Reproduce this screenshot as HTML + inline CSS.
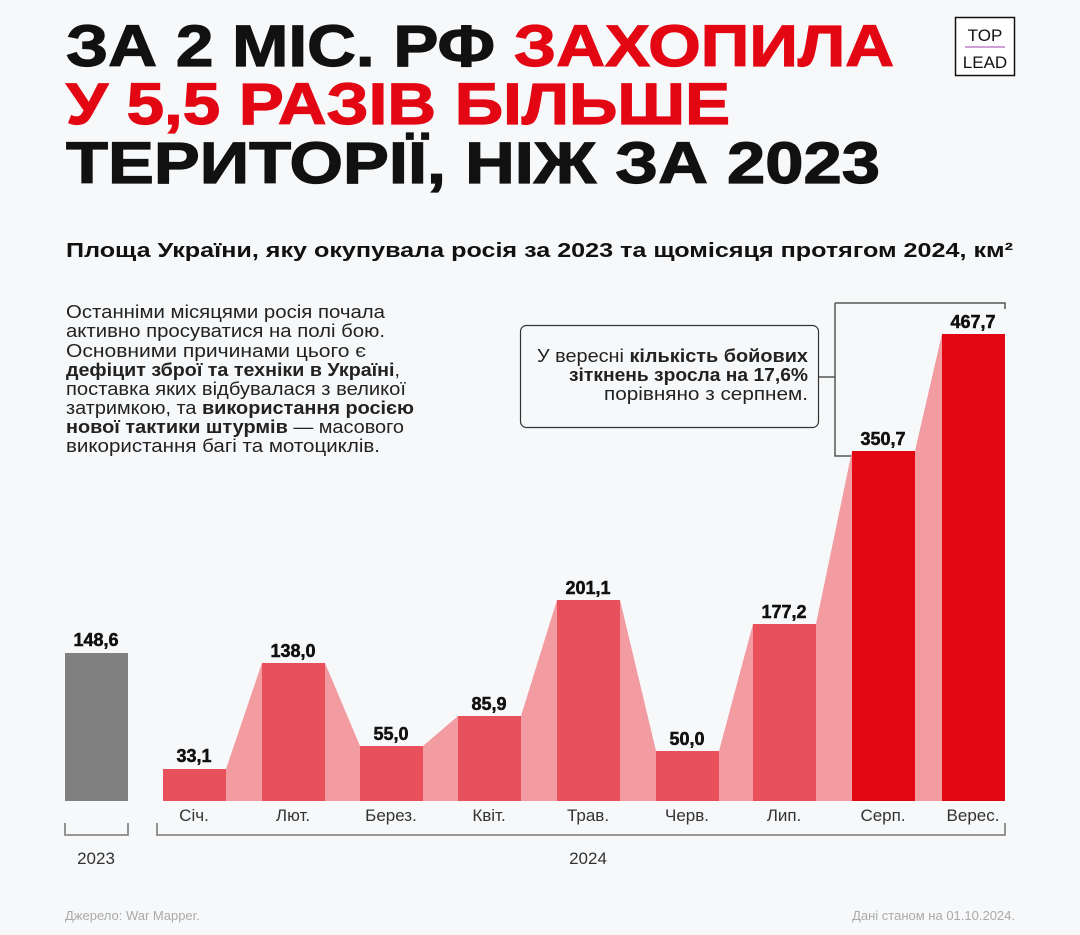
<!DOCTYPE html>
<html><head><meta charset="utf-8"><style>
html,body{margin:0;padding:0;background:#f6f8fa;}
svg{display:block;font-family:"Liberation Sans",sans-serif;}
</style></head><body>
<svg width="1080" height="935" viewBox="0 0 1080 935" xmlns="http://www.w3.org/2000/svg">
<rect width="1080" height="935" fill="#f6f8fa"/>
<g font-weight="900" font-size="58" stroke-width="1.2">
<text x="66" y="66" textLength="828" lengthAdjust="spacingAndGlyphs" fill="#111" stroke="#111">ЗА 2 МІС. РФ <tspan fill="#e30613" stroke="#e30613">ЗАХОПИЛА</tspan></text>
<text x="66" y="124" textLength="664" lengthAdjust="spacingAndGlyphs" fill="#e30613" stroke="#e30613">У 5,5 РАЗІВ БІЛЬШЕ</text>
<text x="66" y="183" textLength="814" lengthAdjust="spacingAndGlyphs" fill="#111" stroke="#111">ТЕРИТОРІЇ, НІЖ ЗА 2023</text>
</g>
<rect x="955.5" y="17.5" width="59" height="58" fill="#fff" stroke="#111" stroke-width="1.5"/>
<text x="985" y="41" font-size="17" text-anchor="middle" fill="#111">TOP</text>
<line x1="965" y1="47" x2="1005" y2="47" stroke="#b06ac0" stroke-width="1.2"/>
<text x="985" y="68" font-size="17" text-anchor="middle" fill="#111">LEAD</text>
<text x="66" y="257" font-size="20" font-weight="bold" fill="#111" textLength="947" lengthAdjust="spacingAndGlyphs">Площа України, яку окупувала росія за 2023 та щомісяця протягом 2024, км²</text>
<g font-size="18" fill="#222">
<text x="66" y="318" textLength="319" lengthAdjust="spacingAndGlyphs">Останніми місяцями росія почала</text>
<text x="66" y="337" textLength="319" lengthAdjust="spacingAndGlyphs">активно просуватися на полі бою.</text>
<text x="66" y="357" textLength="300" lengthAdjust="spacingAndGlyphs">Основними причинами цього є</text>
<text x="66" y="376" textLength="334" lengthAdjust="spacingAndGlyphs"><tspan font-weight="bold">дефіцит зброї та техніки в Україні</tspan>,</text>
<text x="66" y="395" textLength="340" lengthAdjust="spacingAndGlyphs">поставка яких відбувалася з великої</text>
<text x="66" y="414" textLength="348" lengthAdjust="spacingAndGlyphs">затримкою, та <tspan font-weight="bold">використання росією</tspan></text>
<text x="66" y="433" textLength="338" lengthAdjust="spacingAndGlyphs"><tspan font-weight="bold">нової тактики штурмів</tspan> — масового</text>
<text x="66" y="452" textLength="314" lengthAdjust="spacingAndGlyphs">використання багі та мотоциклів.</text>
</g>
<rect x="520.5" y="325.5" width="298" height="102" rx="6" fill="none" stroke="#333" stroke-width="1.2"/>
<g font-size="18" fill="#222">
<text x="537" y="362" textLength="271" lengthAdjust="spacingAndGlyphs">У вересні <tspan font-weight="bold">кількість бойових</tspan></text>
<text x="569" y="381" textLength="239" lengthAdjust="spacingAndGlyphs" font-weight="bold">зіткнень зросла на 17,6%</text>
<text x="604" y="400" textLength="204" lengthAdjust="spacingAndGlyphs">порівняно з серпнем.</text>
</g>
<path d="M819 377H835M835 303V456H852M835 303H1005V309" fill="none" stroke="#555" stroke-width="1.5"/>
<g fill="#f29ba1">
<polygon points="226,769 262,663 262,801 226,801"/>
<polygon points="325,663 360,746 360,801 325,801"/>
<polygon points="423,746 458,716 458,801 423,801"/>
<polygon points="521,716 557,600 557,801 521,801"/>
<polygon points="620,600 656,751 656,801 620,801"/>
<polygon points="719,751 753,624 753,801 719,801"/>
<polygon points="816,624 852,451 852,801 816,801"/>
<polygon points="915,451 942,334 942,801 915,801"/>
</g>
<rect x="65" y="653" width="63" height="148" fill="#808080"/>
<g fill="#e8505b">
<rect x="163" y="769" width="63" height="32"/>
<rect x="262" y="663" width="63" height="138"/>
<rect x="360" y="746" width="63" height="55"/>
<rect x="458" y="716" width="63" height="85"/>
<rect x="557" y="600" width="63" height="201"/>
<rect x="656" y="751" width="63" height="50"/>
<rect x="753" y="624" width="63" height="177"/>
</g>
<rect x="852" y="451" width="63" height="350" fill="#e30613"/>
<rect x="942" y="334" width="63" height="467" fill="#e30613"/>
<g font-size="18" font-weight="900" fill="#111" text-anchor="middle" stroke="#111" stroke-width="0.5">
<text x="96" y="646">148,6</text>
<text x="194" y="762">33,1</text>
<text x="293" y="657">138,0</text>
<text x="391" y="740">55,0</text>
<text x="489" y="710">85,9</text>
<text x="588" y="594">201,1</text>
<text x="687" y="745">50,0</text>
<text x="784" y="618">177,2</text>
<text x="883" y="445">350,7</text>
<text x="973" y="328">467,7</text>
</g>
<g font-size="17" fill="#333" text-anchor="middle">
<text x="194" y="821">Січ.</text>
<text x="293" y="821">Лют.</text>
<text x="391" y="821">Берез.</text>
<text x="489" y="821">Квіт.</text>
<text x="588" y="821">Трав.</text>
<text x="687" y="821">Черв.</text>
<text x="784" y="821">Лип.</text>
<text x="883" y="821">Серп.</text>
<text x="973" y="821">Верес.</text>
<text x="96" y="864">2023</text>
<text x="588" y="864">2024</text>
</g>
<path d="M65 823V835H128V823M157 823V835H1005V823" fill="none" stroke="#888" stroke-width="1.8"/>
<text x="65" y="920" font-size="13" fill="#aaa">Джерело: War Mapper.</text>
<text x="1015" y="920" font-size="13" fill="#aaa" text-anchor="end">Дані станом на 01.10.2024.</text>
</svg>
</body></html>
